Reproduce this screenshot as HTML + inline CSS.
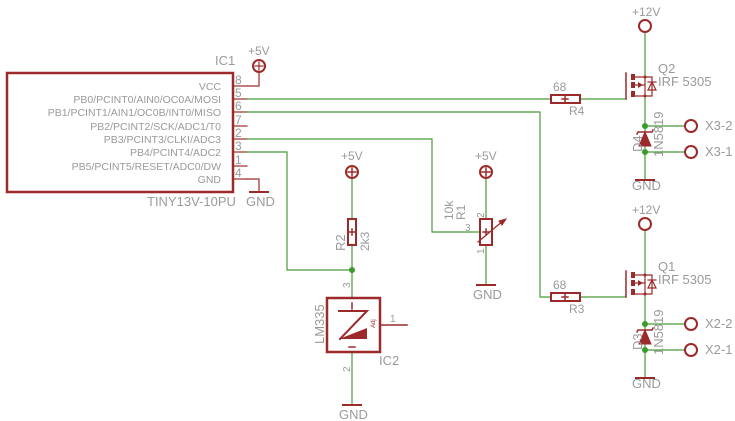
<!DOCTYPE html>
<html><head><meta charset="utf-8"><style>
html,body{margin:0;padding:0;background:#fff;width:735px;height:421px;overflow:hidden}
svg text{font-family:"Liberation Sans",sans-serif;fill:#9a9a9a;font-size:12px}
</style></head><body>
<svg width="735" height="421" viewBox="0 0 735 421" xmlns="http://www.w3.org/2000/svg">
<defs>
<g id="fet">
 <line x1="626" y1="73" x2="626" y2="99" stroke="#9c2a2a" stroke-width="1.5"/>
 <rect x="631" y="74" width="4" height="6" fill="#9c2a2a"/>
 <rect x="631" y="82" width="4" height="6" fill="#9c2a2a"/>
 <rect x="631" y="91" width="4" height="6" fill="#9c2a2a"/>
 <polyline points="635,77 645,77 645,96 635,96" fill="none" stroke="#9c2a2a" stroke-width="1.2"/>
 <line x1="635" y1="85" x2="645" y2="85" stroke="#9c2a2a" stroke-width="1.2"/>
 <polygon points="643,85 638,82 638,88" fill="#9c2a2a"/>
 <polyline points="645,77 652,77 652,96 645,96" fill="none" stroke="#9c2a2a" stroke-width="1.2"/>
 <polygon points="652,82 648,90 656,90" fill="none" stroke="#9c2a2a" stroke-width="1.2"/>
 <line x1="648" y1="82" x2="656" y2="82" stroke="#9c2a2a" stroke-width="1.2"/>
 <circle cx="645" cy="77" r="1.5" fill="#9c2a2a"/><circle cx="645" cy="96" r="1.5" fill="#9c2a2a"/>
</g>
</defs>
<g fill="none" stroke-linecap="square">
<rect x="7" y="73" width="226" height="119" stroke="#9c2a2a" stroke-width="2.5"/>
<g stroke="#9c2a2a" stroke-width="1.2">
<line x1="233" y1="86" x2="247" y2="86"/><line x1="233" y1="99" x2="247" y2="99"/>
<line x1="233" y1="112" x2="247" y2="112"/><line x1="233" y1="126" x2="247" y2="126"/>
<line x1="233" y1="139" x2="247" y2="139"/><line x1="233" y1="152" x2="247" y2="152"/>
<line x1="233" y1="166" x2="247" y2="166"/><line x1="233" y1="179" x2="247" y2="179"/>
<polyline points="247,86 259,86 259,72"/>
<polyline points="247,179 259,179 259,192"/>
<line x1="250" y1="192" x2="268" y2="192" stroke-width="2"/>
<circle cx="259" cy="66" r="6" stroke-width="2"/>
<line x1="255" y1="66" x2="263" y2="66"/><line x1="259" y1="62" x2="259" y2="70"/>
</g>
<g stroke="#4a9a3a" stroke-width="1.2">
<line x1="247" y1="99" x2="551" y2="99"/>
<polyline points="247,112 540,112 540,297 551,297"/>
<polyline points="247,139 432,139 432,232 480,232"/>
<polyline points="247,152 287,152 287,270 352,270"/>
<line x1="580" y1="99" x2="626" y2="99"/>
<line x1="580" y1="297" x2="626" y2="297"/>
<line x1="645" y1="32" x2="645" y2="77"/><line x1="645" y1="96" x2="645" y2="180"/>
<line x1="645" y1="230" x2="645" y2="275"/><line x1="645" y1="294" x2="645" y2="378"/>
<line x1="645" y1="126" x2="685" y2="126"/><line x1="645" y1="152" x2="685" y2="152"/>
<line x1="645" y1="324" x2="685" y2="324"/><line x1="645" y1="350" x2="685" y2="350"/>
<line x1="352" y1="178" x2="352" y2="219"/><line x1="352" y1="245" x2="352" y2="298"/>
<line x1="352" y1="352" x2="352" y2="405"/>
<line x1="486" y1="178" x2="486" y2="219"/><line x1="486" y1="245" x2="486" y2="285"/>
</g>
<g fill="#3a9a2a" stroke="none">
<circle cx="352" cy="270" r="3"/>
<circle cx="645" cy="126" r="3"/><circle cx="645" cy="152" r="3"/>
<circle cx="645" cy="324" r="3"/><circle cx="645" cy="350" r="3"/>
</g>
<g stroke="#9c2a2a" stroke-width="1.5">
<rect x="551" y="95" width="29" height="8" stroke-width="2"/><line x1="562" y1="99" x2="568" y2="99"/><line x1="565" y1="96" x2="565" y2="102"/>
<rect x="551" y="293" width="29" height="8" stroke-width="2"/><line x1="562" y1="297" x2="568" y2="297"/><line x1="565" y1="294" x2="565" y2="300"/>
<circle cx="645" cy="26" r="6" stroke-width="2"/><circle cx="645" cy="224" r="6" stroke-width="2"/>
<circle cx="691" cy="126" r="6" stroke-width="2"/><circle cx="691" cy="152" r="6" stroke-width="2"/>
<circle cx="691" cy="324" r="6" stroke-width="2"/><circle cx="691" cy="350" r="6" stroke-width="2"/>
<polygon points="645,132 639,146 651,146" fill="#9c2a2a" stroke-width="1"/>
<polyline points="637,134 638,132 652,132 653,130" stroke-width="1.5"/>
<polygon points="645,330 639,344 651,344" fill="#9c2a2a" stroke-width="1"/>
<polyline points="637,332 638,330 652,330 653,328" stroke-width="1.5"/>
<line x1="636" y1="180" x2="654" y2="180" stroke-width="2"/>
<line x1="636" y1="378" x2="654" y2="378" stroke-width="2"/>
<line x1="343" y1="405" x2="361" y2="405" stroke-width="2"/>
<line x1="477" y1="285" x2="495" y2="285" stroke-width="2"/>
<circle cx="352" cy="172" r="6" stroke-width="2"/><line x1="348" y1="172" x2="356" y2="172"/><line x1="352" y1="168" x2="352" y2="176"/>
<circle cx="486" cy="172" r="6" stroke-width="2"/><line x1="482" y1="172" x2="490" y2="172"/><line x1="486" y1="168" x2="486" y2="176"/>
<rect x="348" y="219" width="8" height="26" stroke-width="2"/><line x1="352" y1="229" x2="352" y2="235"/><line x1="349" y1="232" x2="355" y2="232"/>
<rect x="480" y="219" width="12" height="26" stroke-width="2"/><line x1="486" y1="229" x2="486" y2="235"/><line x1="483" y1="232" x2="489" y2="232"/>
<line x1="478" y1="242" x2="504" y2="220" stroke-width="1.2"/>
<polygon points="506,219 499,221 502,225" fill="#9c2a2a" stroke-width="1"/>
<rect x="327" y="298" width="53" height="54" stroke-width="2.5"/>
<line x1="380" y1="325" x2="407" y2="325"/>
<polygon points="339,339 367,339 367,328" fill="#9c2a2a" stroke="none"/>
<polyline points="339,311 367,311 340,339" stroke-width="2"/>
<line x1="352" y1="303" x2="352" y2="309"/>
<line x1="349" y1="347" x2="355" y2="347"/>
</g>
<use href="#fet"/>
<use href="#fet" y="198"/>
</g>
<g text-anchor="end">
<text x="221" y="90" style="font-size:10.5px">VCC</text>
<text x="221" y="103" style="font-size:10.5px">PB0/PCINT0/AIN0/OC0A/MOSI</text>
<text x="221" y="116" style="font-size:10.5px">PB1/PCINT1/AIN1/OC0B/INT0/MISO</text>
<text x="221" y="130" style="font-size:10.5px">PB2/PCINT2/SCK/ADC1/T0</text>
<text x="221" y="143" style="font-size:10.5px">PB3/PCINT3/CLKI/ADC3</text>
<text x="221" y="156" style="font-size:10.5px">PB4/PCINT4/ADC2</text>
<text x="221" y="170" style="font-size:10.5px">PB5/PCINT5/RESET/ADC0/DW</text>
<text x="221" y="183" style="font-size:10.5px">GND</text>
</g>
<g style="font-size:10.5px">
<text x="235" y="84">8</text><text x="235" y="97">5</text><text x="235" y="110">6</text><text x="235" y="124">7</text>
<text x="235" y="137">2</text><text x="235" y="150">3</text><text x="235" y="164">1</text><text x="235" y="177">4</text>
</g>
<text x="215" y="65" style="font-size:13px">IC1</text>
<text x="147" y="206" style="font-size:13px">TINY13V-10PU</text>
<text x="246" y="206" style="font-size:13px">GND</text>
<text x="248" y="55">+5V</text>
<text x="341" y="160">+5V</text>
<text x="475" y="160">+5V</text>
<text x="632" y="16">+12V</text>
<text x="632" y="214">+12V</text>
<text x="553" y="91">68</text><text x="569" y="115">R4</text>
<text x="553" y="289">68</text><text x="569" y="313">R3</text>
<text x="658" y="73" style="font-size:13px">Q2</text><text x="658" y="86" style="font-size:13px">IRF 5305</text>
<text x="658" y="271" style="font-size:13px">Q1</text><text x="658" y="284" style="font-size:13px">IRF 5305</text>
<text x="705" y="130" style="font-size:13px">X3-2</text><text x="705" y="156" style="font-size:13px">X3-1</text>
<text x="705" y="328" style="font-size:13px">X2-2</text><text x="705" y="354" style="font-size:13px">X2-1</text>
<text x="632" y="190" style="font-size:13px">GND</text><text x="632" y="388" style="font-size:13px">GND</text>
<text x="339" y="419" style="font-size:13px">GND</text><text x="473" y="299" style="font-size:13px">GND</text>
<text x="642" y="152" transform="rotate(-90 642 152)" style="font-size:13px">D4</text>
<text x="663" y="157" transform="rotate(-90 663 157)" style="font-size:13px">1N5819</text>
<text x="642" y="350" transform="rotate(-90 642 350)" style="font-size:13px">D3</text>
<text x="663" y="355" transform="rotate(-90 663 355)" style="font-size:13px">1N5819</text>
<text x="345" y="251" transform="rotate(-90 345 251)" style="font-size:13px">R2</text>
<text x="369" y="251" transform="rotate(-90 369 251)">2k3</text>
<text x="453" y="220" transform="rotate(-90 453 220)">10k</text>
<text x="465" y="220" transform="rotate(-90 465 220)">R1</text>
<text x="324" y="344" transform="rotate(-90 324 344)" style="font-size:13px">LM335</text>
<text x="379" y="365" style="font-size:13px">IC2</text>
<text x="390" y="322" style="font-size:10px">1</text>
<text x="350" y="288" transform="rotate(-90 350 288)" style="font-size:10px">3</text>
<text x="350" y="372" transform="rotate(-90 350 372)" style="font-size:10px">2</text>
<text x="484" y="218" transform="rotate(-90 484 218)" style="font-size:10px">2</text>
<text x="484" y="254" transform="rotate(-90 484 254)" style="font-size:10px">1</text>
<text x="465" y="231" style="font-size:10px">3</text>
<text x="375" y="328" transform="rotate(-90 375 328)" style="font-size:6px;fill:#9c2a2a">Adj</text>
</svg>
</body></html>
